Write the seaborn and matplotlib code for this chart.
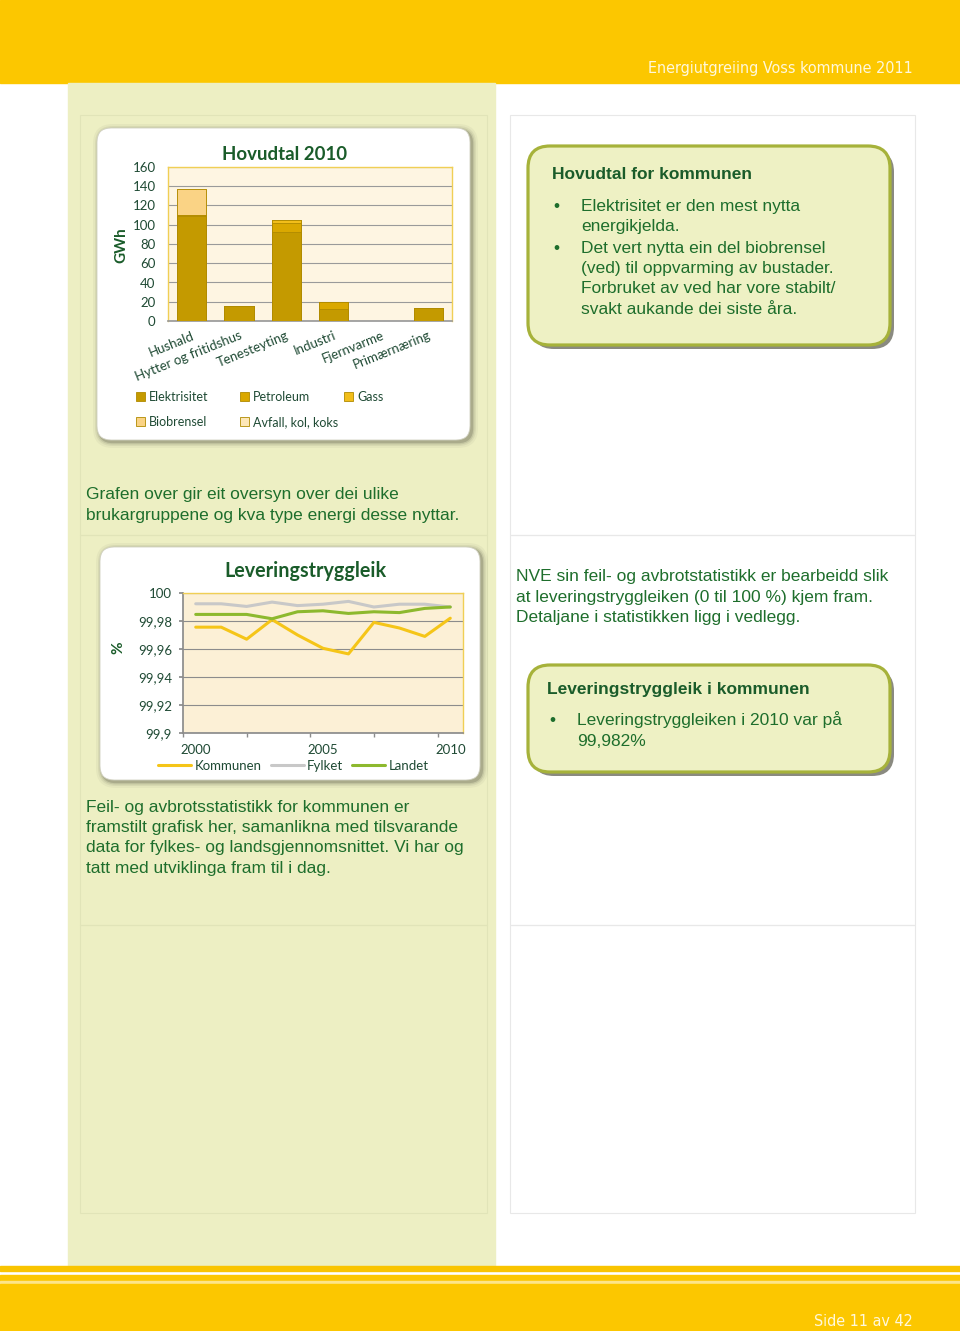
import numpy as np
import pandas as pd
import matplotlib
matplotlib.use('Agg')
import matplotlib.pyplot as plt
import seaborn as sns
from matplotlib.patches import Rectangle, FancyBboxPatch, Patch
from matplotlib.lines import Line2D
from matplotlib import font_manager as fm

# ---------------- data ----------------
categories = ['Hushald', 'Hytter og fritidshus', 'Tenesteyting', 'Industri', 'Fjernvarme', 'Primærnæring']
elektrisitet = [109, 16, 92, 12, 0, 13]
petroleum = [1, 0, 10, 8, 0, 0]
gass = [0, 0, 3, 0, 0, 0]
biobrensel = [27, 0, 0, 0, 0, 0]
avfall = [0, 0, 0, 0, 0, 0]
energy_names = ['Elektrisitet', 'Petroleum', 'Gass', 'Biobrensel', 'Avfall, kol, koks']
bar_yticks = [0, 20, 40, 60, 80, 100, 120, 140, 160]

years = [2000, 2001, 2002, 2003, 2004, 2005, 2006, 2007, 2008, 2009, 2010]
kommunen = [99.9756, 99.9756, 99.967, 99.981, 99.970, 99.9605, 99.9565, 99.979, 99.975, 99.969, 99.982]
fylket = [99.9923, 99.9923, 99.9904, 99.9935, 99.991, 99.992, 99.994, 99.990, 99.992, 99.992, 99.990]
landet = [99.9847, 99.9847, 99.9847, 99.9816, 99.9866, 99.9873, 99.9854, 99.9866, 99.986, 99.989, 99.990]
series_names = ['Kommunen', 'Fylket', 'Landet']
line_yticks = [99.9, 99.92, 99.94, 99.96, 99.98, 100.0]
line_ylabels = ['99,9', '99,92', '99,94', '99,96', '99,98', '100']
line_xticks = [2000, 2005, 2010]

# ---------------- styles ----------------
sns.set_theme(style='white')
plt.rcParams['font.family'] = ['Liberation Sans', 'DejaVu Sans']

W, H = 960, 1331
YELLOW = '#FCC700'
PALE = '#EDEFC3'
BODY = '#1E6E2C'
CHART_TXT = '#1F4A34'
TITLE_G = '#1A5C2A'
CHARTF = ['Lato', 'DejaVu Sans']
bar_colors = ['#C49A00', '#DAA800', '#F2BE1A', '#FAD385', '#FDE7B8']
line_colors = {'Kommunen': '#F5C518', 'Fylket': '#C8C8C8', 'Landet': '#8DB92E'}

# narrow font for header/footer (Arial Narrow look) if one is installed
narrow_prop = None
for f in fm.fontManager.ttflist:
    nm = f.name.lower()
    if (('narrow' in nm or 'condensed' in nm or str(f.stretch) in ('condensed', 'semi-condensed'))
            and 'mono' not in nm and 'serif' not in nm.replace('sans', '')
            and f.weight in (400, 'normal', 'regular') and f.style == 'normal'):
        narrow_prop = fm.FontProperties(fname=f.fname, size=11.5)
        break
if narrow_prop is None:
    narrow_prop = fm.FontProperties(family='Liberation Sans', size=11.5)

fig = plt.figure(figsize=(W / 100, H / 100), dpi=100)
bg = fig.add_axes([0, 0, 1, 1], zorder=0)
bg.set_xlim(0, W)
bg.set_ylim(H, 0)
bg.axis('off')


def px_axes(l, t, w, h):
    return fig.add_axes([l / W, 1 - (t + h) / H, w / W, h / H], zorder=3)


def rbox(x, y, w, h, r, fc, ec='none', lw=0, z=1, alpha=1.0):
    p = FancyBboxPatch((x + r, y + r), w - 2 * r, h - 2 * r,
                       boxstyle=f'round,pad={r},rounding_size={r}',
                       fc=fc, ec=ec, lw=lw, zorder=z, alpha=alpha)
    bg.add_patch(p)


def txt(x, y, s, **kw):
    bg.text(x, y, s, **kw)


# page background elements
bg.add_patch(Rectangle((0, 0), W, 83, color=YELLOW, zorder=1))
bg.add_patch(Rectangle((68, 83), 427, 1183, color=PALE, zorder=1))
for (yy, hh) in [(115, 420), (535, 390), (925, 288)]:
    bg.add_patch(Rectangle((80, yy), 407, hh, fill=False, ec='#E1E4B8', lw=0.8, zorder=1.5))
    bg.add_patch(Rectangle((510, yy), 405, hh, fill=False, ec='#E8E8E8', lw=0.8, zorder=1.5))
# footer
bg.add_patch(Rectangle((0, 1266), W, 4.5, color='#F9C400', zorder=1))
bg.add_patch(Rectangle((0, 1275), W, 6, color=YELLOW, zorder=1))
bg.add_patch(Rectangle((0, 1281), W, 2.5, color='#FDE58A', zorder=1))
bg.add_patch(Rectangle((0, 1283.5), W, H - 1283.5, color=YELLOW, zorder=1))

txt(913, 73, 'Energiutgreiing Voss kommune 2011', ha='right', va='baseline',
    color='#FFF8DC', fontproperties=narrow_prop, zorder=5)
txt(913, 1326, 'Side 11 av 42', ha='right', va='baseline',
    color='#FFF8DC', fontproperties=narrow_prop, zorder=5)

# chart cards with soft shadow
for (cx, cy, cw, ch) in [(97, 128, 373, 312), (100, 547, 380, 233)]:
    for pad, a in [(6, 0.05), (4, 0.08), (2.5, 0.12), (1.2, 0.22)]:
        rbox(cx - pad + 2, cy - pad + 2, cw + 2 * pad, ch + 2 * pad, 14 + pad, '#4A4A3A', z=2, alpha=a)
    rbox(cx, cy, cw, ch, 14, '#FFFFFF', ec='#D0D0C0', lw=0.6, z=2.5)

# callout boxes
for (cx, cy, cw, ch) in [(528, 146, 362, 199), (528, 665, 362, 107)]:
    rbox(cx + 4, cy + 4, cw, ch, 22, '#8A8A80', z=2)
    rbox(cx, cy, cw, ch, 22, '#EEF1C4', ec='#A6B23A', lw=2.3, z=2.5)

# ---------------- bar chart ----------------
ax1 = px_axes(168, 167, 284, 154)
ax1.set_facecolor('#FEF5E2')
layers = [elektrisitet, petroleum, gass, biobrensel, avfall]
cum = np.cumsum(np.array(layers, dtype=float), axis=0)
for i in reversed(range(len(layers))):
    sns.barplot(x=categories, y=cum[i], color=bar_colors[i], saturation=1,
                width=0.62, edgecolor='#B08A00', linewidth=0.6, ax=ax1, zorder=3)
ax1.set_ylim(0, 160)
ax1.set_xlim(-0.5, 5.5)
ax1.set_yticks(bar_yticks)
ax1.set_yticklabels([str(v) for v in bar_yticks])
ax1.yaxis.grid(True, color='#9A9A9A', lw=0.8)
ax1.set_axisbelow(True)
ax1.set_xticks(range(len(categories)))
ax1.set_xticklabels(categories, rotation=22, ha='right', va='top', rotation_mode='anchor')
ax1.tick_params(axis='y', length=0, pad=9, labelsize=9.5, labelcolor=CHART_TXT)
ax1.tick_params(axis='x', length=0, pad=6, labelsize=9.5, labelcolor=CHART_TXT)
for lab in ax1.get_xticklabels() + ax1.get_yticklabels():
    lab.set_family(CHARTF)
for s in ['top', 'right', 'left']:
    ax1.spines[s].set_color('#F0CF55')
    ax1.spines[s].set_linewidth(1.0)
ax1.spines['bottom'].set_color('#9A9A9A')
ax1.set_xlabel('')
ax1.set_ylabel('GWh', fontsize=11, fontweight='bold', color=TITLE_G, family=CHARTF)
ax1.yaxis.set_label_coords(-0.141, 0.49)
txt(285, 154, 'Hovudtal 2010', ha='center', va='center', fontsize=13.4,
    fontweight='bold', color=TITLE_G, family=CHARTF, zorder=5)

handles = [Patch(fc=bar_colors[i], ec='#B08A00', lw=0.6, label=energy_names[i]) for i in range(5)]
cols = [([handles[0], handles[3]], 136), ([handles[1], handles[4]], 240), ([handles[2]], 344)]
for k, (hs, xx) in enumerate(cols):
    lg = ax1.legend(handles=hs, loc='upper left', bbox_to_anchor=(xx, 391),
                    bbox_transform=bg.transData, frameon=False,
                    handlelength=0.75, handleheight=0.75, handletextpad=0.3,
                    labelspacing=1.05, borderpad=0, borderaxespad=0,
                    prop={'family': CHARTF, 'size': 9})
    for t in lg.get_texts():
        t.set_color(CHART_TXT)
    if k < 2:
        ax1.add_artist(lg)

# ---------------- line chart ----------------
ax2 = px_axes(183, 593, 280, 140)
ax2.set_facecolor('#FCF0D6')
df = pd.DataFrame({
    'year': years * 3,
    'value': kommunen + fylket + landet,
    'series': sum([[n] * len(years) for n in series_names], []),
})
sns.lineplot(data=df, x='year', y='value', hue='series', hue_order=series_names,
             palette=line_colors, linewidth=2.2, legend=False, ax=ax2, zorder=3)
ax2.set_ylim(99.9, 100.0)
ax2.set_xlim(1999.5, 2010.5)
ax2.set_yticks(line_yticks)
ax2.set_yticklabels(line_ylabels)
ax2.set_xticks(line_xticks)
ax2.set_xticklabels([str(v) for v in line_xticks])
ax2.set_xticks([1999.5, 2002, 2004.5, 2007, 2009.5], minor=True)
ax2.yaxis.grid(True, color='#8C8C8C', lw=0.8)
ax2.set_axisbelow(True)
ax2.tick_params(axis='y', which='major', length=3, direction='out', color='#8C8C8C',
                left=True, pad=5, labelsize=9.5, labelcolor=CHART_TXT)
ax2.tick_params(axis='x', which='major', length=0, pad=8, labelsize=9.5, labelcolor=CHART_TXT)
ax2.tick_params(axis='x', which='minor', length=3, direction='out', color='#8C8C8C', bottom=True)
for lab in ax2.get_xticklabels() + ax2.get_yticklabels():
    lab.set_family(CHARTF)
for s in ['top', 'right']:
    ax2.spines[s].set_color('#F0CF55')
    ax2.spines[s].set_linewidth(1.0)
for s in ['left', 'bottom']:
    ax2.spines[s].set_color('#8C8C8C')
ax2.set_xlabel('')
ax2.set_ylabel('%', fontsize=11, fontweight='bold', color=TITLE_G, family=CHARTF)
ax2.yaxis.set_label_coords(-0.205, 0.607)
txt(305, 571, 'Leveringstryggleik', ha='center', va='center', fontsize=14.2,
    fontweight='bold', color=TITLE_G, family=CHARTF, zorder=5)
lh = [Line2D([0], [0], color=line_colors[n], lw=2.2, label=n) for n in series_names]
lg2 = ax2.legend(handles=lh, loc='center left', bbox_to_anchor=(158, 766),
                 bbox_transform=bg.transData, ncol=3, frameon=False,
                 handlelength=2.5, handletextpad=0.25, columnspacing=0.7,
                 borderpad=0, borderaxespad=0, prop={'family': CHARTF, 'size': 9.5})
for t in lg2.get_texts():
    t.set_color(CHART_TXT)

# ---------------- text blocks ----------------
BF = 12.5
for yy, s in zip([499, 520], ['Grafen over gir eit oversyn over dei ulike',
                              'brukargruppene og kva type energi desse nyttar.']):
    txt(86, yy, s, fontsize=BF, color=BODY, va='baseline', zorder=5)
for yy, s in zip([581, 602, 622], ['NVE sin feil- og avbrotstatistikk er bearbeidd slik',
                                   'at leveringstryggleiken (0 til 100 %) kjem fram.',
                                   'Detaljane i statistikken ligg i vedlegg.']):
    txt(516, yy, s, fontsize=BF, color=BODY, va='baseline', zorder=5)
for yy, s in zip([812, 832, 852, 873], ['Feil- og avbrotsstatistikk for kommunen er',
                                        'framstilt grafisk her, samanlikna med tilsvarande',
                                        'data for fylkes- og landsgjennomsnittet. Vi har og',
                                        'tatt med utviklinga fram til i dag.']):
    txt(86, yy, s, fontsize=BF, color=BODY, va='baseline', zorder=5)

# callout 1
txt(552, 179, 'Hovudtal for kommunen', fontsize=BF, fontweight='bold', color=TITLE_G,
    va='baseline', zorder=5)
c1 = ['Elektrisitet er den mest nytta', 'energikjelda.', 'Det vert nytta ein del biobrensel',
      '(ved) til oppvarming av bustader.', 'Forbruket av ved har vore stabilt/',
      'svakt aukande dei siste åra.']
for yy, s in zip([211, 231, 253, 273, 293, 314], c1):
    txt(581, yy, s, fontsize=BF, color=BODY, va='baseline', zorder=5)
for yy in [211, 253]:
    txt(556, yy, '•', fontsize=BF, color=BODY, va='baseline', ha='center', zorder=5)

# callout 2
txt(547, 694, 'Leveringstryggleik i kommunen', fontsize=BF, fontweight='bold', color=TITLE_G,
    va='baseline', zorder=5)
for yy, s in zip([725, 746], ['Leveringstryggleiken i 2010 var på', '99,982%']):
    txt(577, yy, s, fontsize=BF, color=BODY, va='baseline', zorder=5)
txt(552, 725, '•', fontsize=BF, color=BODY, va='baseline', ha='center', zorder=5)

fig.savefig('out.png', dpi=100)
